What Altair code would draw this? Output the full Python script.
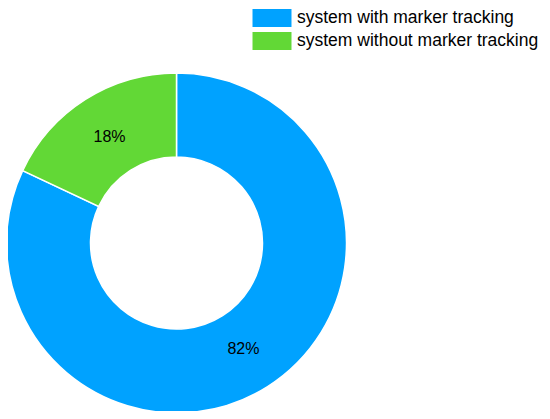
import altair as alt
import pandas as pd

categories = ["system with marker tracking", "system without marker tracking"]
values = [82, 18]
labels = ["82%", "18%"]
colors = ["#00A2FF", "#62D836"]

df = pd.DataFrame({"category": categories, "value": values, "label": labels,
                   "order": list(range(len(categories)))})

color = alt.Color(
    "category:N",
    scale=alt.Scale(domain=categories, range=colors),
    legend=alt.Legend(
        title=None,
        orient="none",
        legendX=254,
        legendY=0,
        symbolType="M-2,-0.92H2V0.92H-2Z",
        symbolSize=380,
        symbolStrokeWidth=0,
        symbolOpacity=1,
        labelFont="Liberation Sans",
        labelFontSize=17.5,
        labelColor="#000000",
        labelOffset=15,
        rowPadding=4,
        padding=0,
        labelLimit=400,
    ),
)

base = alt.Chart(df).encode(
    theta=alt.Theta("value:Q", stack=True),
    order=alt.Order("order:Q"),
)

arc = base.mark_arc(outerRadius=170, innerRadius=86, stroke="white", strokeWidth=1.5,
                    x=168.5, y=235).encode(color=color)

text = base.mark_text(radius=125, x=168.5, y=235, font="Liberation Sans", fontSize=16,
                      color="black").encode(text="label:N")

chart = (arc + text).properties(
    width=534, height=403,
    autosize=alt.AutoSizeParams(type="none"),
    padding=0,
).configure_view(stroke=None)

chart.save("out.html", embed_options={"renderer": "svg", "actions": False})
